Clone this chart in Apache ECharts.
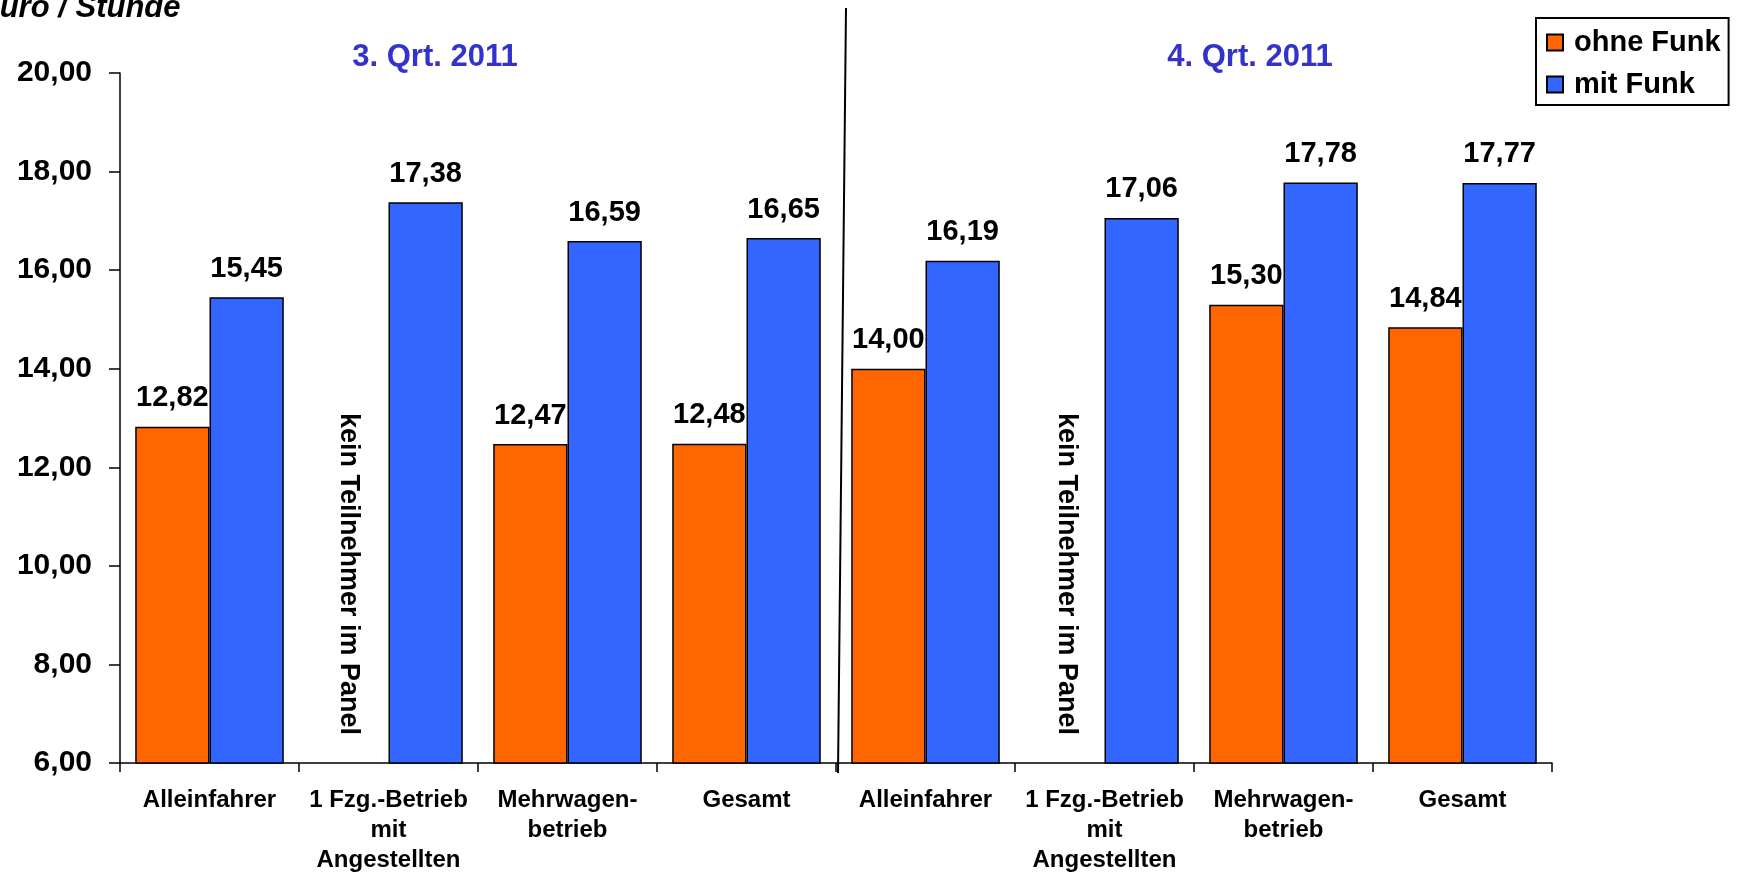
<!DOCTYPE html>
<html>
<head>
<meta charset="utf-8">
<script src="https://cdn.jsdelivr.net/npm/echarts@6/dist/echarts.min.js"></script>
<style>
html,body{margin:0;padding:0;background:#fff;}
#main{width:1742px;height:876px;}
</style>
</head>
<body>
<div id="main"></div>
<script>
// Daten
var kategorien = ['Alleinfahrer', '1 Fzg.-Betrieb\nmit\nAngestellten', 'Mehrwagen-\nbetrieb', 'Gesamt',
                  'Alleinfahrer', '1 Fzg.-Betrieb\nmit\nAngestellten', 'Mehrwagen-\nbetrieb', 'Gesamt'];
var ohneFunk = [12.82, null, 12.47, 12.48, 14.00, null, 15.30, 14.84];
var mitFunk = [15.45, 17.38, 16.59, 16.65, 16.19, 17.06, 17.78, 17.77];
var quartale = ['3. Qrt. 2011', '4. Qrt. 2011'];
var yMin = 6, yMax = 20, yStep = 2;

var FONT = 'Liberation Sans, Arial, sans-serif';
var chart = echarts.init(document.getElementById('main'));

function komma(v) {
    return Number(v).toFixed(2).replace('.', ',');
}

var balkenLabel = {
    show: true,
    position: 'top',
    distance: 14,
    color: '#000',
    fontSize: 29,
    fontWeight: 'bold',
    fontFamily: FONT,
    formatter: function (p) { return komma(p.value); }
};

var option = {
    backgroundColor: '#fff',
    animation: false,
    grid: { left: 120, right: 190, top: 73, bottom: 113, containLabel: false },
    legend: {
        orient: 'vertical',
        left: 1536,
        top: 18,
        padding: [10, 8, 6, 10],
        itemGap: 13,
        itemWidth: 16,
        itemHeight: 16,
        icon: 'rect',
        borderColor: '#000',
        borderWidth: 2,
        backgroundColor: '#fff',
        textStyle: {
            color: '#000', fontSize: 29, fontWeight: 'bold', fontFamily: FONT,
            padding: [0, 0, 0, 6]
        },
        data: ['ohne Funk', 'mit Funk']
    },
    xAxis: {
        type: 'category',
        data: kategorien,
        axisLine: { lineStyle: { color: '#000', width: 1.5 } },
        axisTick: { show: true, length: 9, alignWithLabel: false, lineStyle: { color: '#000', width: 1.5 } },
        axisLabel: {
            interval: 0,
            margin: 22,
            color: '#000',
            fontSize: 24,
            fontWeight: 'bold',
            fontFamily: FONT,
            lineHeight: 30
        },
        splitLine: { show: false }
    },
    yAxis: {
        type: 'value',
        min: yMin,
        max: yMax,
        interval: yStep,
        axisLine: { show: true, lineStyle: { color: '#000', width: 1.5 } },
        axisTick: { show: true, length: 11, lineStyle: { color: '#000', width: 1.5 } },
        axisLabel: {
            margin: 28,
            color: '#000',
            fontSize: 30,
            fontWeight: 'bold',
            fontFamily: FONT,
            formatter: function (v) { return komma(v); }
        },
        splitLine: { show: false }
    },
    series: [
        {
            name: 'ohne Funk',
            type: 'bar',
            data: ohneFunk,
            barGap: '0%',
            barCategoryGap: '17%',
            itemStyle: { color: '#FF6600', borderColor: '#000', borderWidth: 1.5 },
            label: balkenLabel
        },
        {
            name: 'mit Funk',
            type: 'bar',
            data: mitFunk,
            barGap: '0%',
            barCategoryGap: '17%',
            itemStyle: { color: '#3366FF', borderColor: '#000', borderWidth: 1.5 },
            label: balkenLabel
        }
    ],
    graphic: [
        {
            type: 'text',
            x: -21, y: 24,
            style: {
                text: 'Euro / Stunde', fill: '#000',
                font: 'italic bold 31px ' + FONT,
                textVerticalAlign: 'bottom'
            }
        },
        {
            type: 'text',
            x: 435, y: 57,
            style: {
                text: quartale[0], fill: '#3333CC',
                font: 'bold 31px ' + FONT,
                textAlign: 'center', textVerticalAlign: 'middle'
            }
        },
        {
            type: 'text',
            x: 1250, y: 57,
            style: {
                text: quartale[1], fill: '#3333CC',
                font: 'bold 31px ' + FONT,
                textAlign: 'center', textVerticalAlign: 'middle'
            }
        },
        // Trennlinie zwischen den Quartalen
        {
            type: 'line',
            shape: { x1: 846, y1: 8, x2: 838, y2: 773 },
            style: { stroke: '#000', lineWidth: 2 }
        },
        // kein Teilnehmer im Panel
        {
            type: 'text',
            x: 348, y: 574,
            rotation: -Math.PI / 2,
            style: {
                text: 'kein Teilnehmer im Panel', fill: '#000',
                font: 'bold 27px ' + FONT,
                textAlign: 'center', textVerticalAlign: 'middle'
            }
        },
        {
            type: 'text',
            x: 1066, y: 574,
            rotation: -Math.PI / 2,
            style: {
                text: 'kein Teilnehmer im Panel', fill: '#000',
                font: 'bold 27px ' + FONT,
                textAlign: 'center', textVerticalAlign: 'middle'
            }
        }
    ]
};

chart.setOption(option);
</script>
</body>
</html>
